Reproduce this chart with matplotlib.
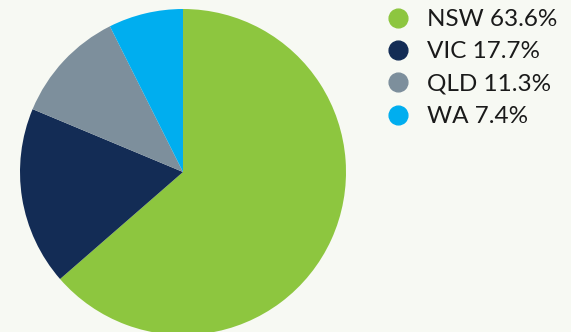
import matplotlib
matplotlib.use("Agg")
import matplotlib.pyplot as plt
from matplotlib.lines import Line2D

categories = ["NSW", "VIC", "QLD", "WA"]
shares = [63.6, 17.7, 11.3, 7.4]
colors = ["#8dc63f", "#132c55", "#7d8f9c", "#00aeef"]
labels = [f"{c} {v}%" for c, v in zip(categories, shares)]

W, H = 571, 332
bg = "#f7f9f3"
fig = plt.figure(figsize=(W / 100, H / 100), dpi=100, facecolor=bg)
ax = fig.add_axes([0, 0, 1, 1])
ax.set_facecolor(bg)

cx, cy, r = 183, 172, 163
ax.pie(shares, colors=colors, startangle=90, counterclock=False,
       radius=1, center=(0, 0), wedgeprops=dict(linewidth=0))
ax.set_aspect("auto")
ax.set_xlim(-cx / r, (W - cx) / r)
ax.set_ylim(-(H - cy) / r, cy / r)
ax.axis("off")

handles = [Line2D([], [], marker="o", linestyle="none", markersize=13.5,
                  markerfacecolor=c, markeredgecolor=c) for c in colors]
leg = fig.legend(handles, labels, loc="upper left",
                 bbox_to_anchor=(386 / W, 1 - 9 / H), frameon=False,
                 prop={"family": "Lato", "size": 17.5}, labelcolor="#1a1a1a",
                 handletextpad=0.69, labelspacing=0.47, handlelength=1.0,
                 borderaxespad=0, borderpad=0)

fig.savefig("out.png", dpi=100, facecolor=bg)
